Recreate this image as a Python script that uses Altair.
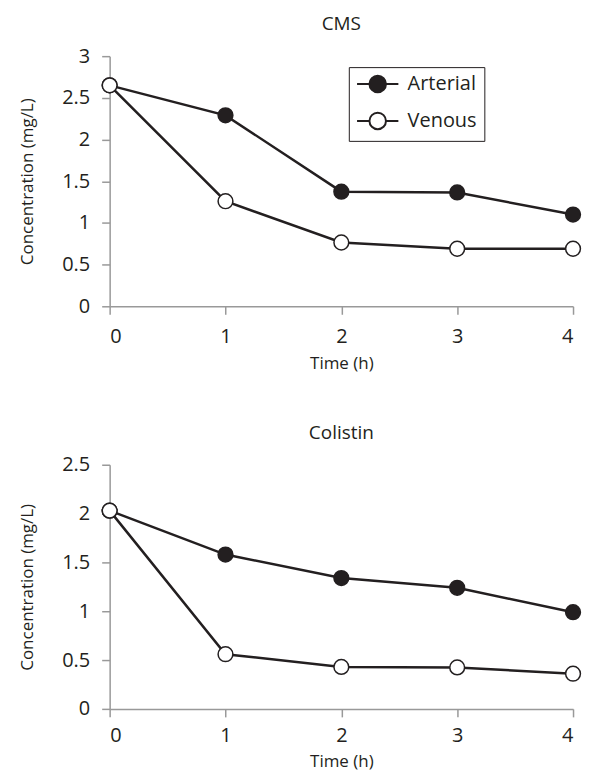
import altair as alt
import pandas as pd

times = [0, 1, 2, 3, 4]
cms_arterial = [2.65, 2.29, 1.375, 1.365, 1.10]
cms_venous = [2.65, 1.26, 0.765, 0.69, 0.69]
col_arterial = [2.03, 1.58, 1.34, 1.24, 0.99]
col_venous = [2.03, 0.56, 0.43, 0.425, 0.36]
series = ["Arterial", "Venous"]

INK = "#231f20"
FONT = "Open Sans"
SYMBOL = "M-2.5,0L-1,0M1,0L2.5,0M1,0A1,1 0 1,1 -1,0A1,1 0 1,1 1,0Z"


def frame(art, ven):
    rows = []
    for t, a in zip(times, art):
        rows.append({"time": t, "value": a, "series": "Arterial", "ord": 0})
    for t, v in zip(times, ven):
        rows.append({"time": t, "value": v, "series": "Venous", "ord": 1})
    return pd.DataFrame(rows)


def panel(df, title, ymax, w, h, lx, ly, xlp, xtp):
    base = alt.Chart(df)
    x = alt.X("time:Q", title="Time (h)",
              scale=alt.Scale(domain=[0, 4], nice=False),
              axis=alt.Axis(values=times, format="~g", labelPadding=xlp,
                            titlePadding=xtp))
    yvals = [i * 0.5 for i in range(int(ymax * 2) + 1)]
    y = alt.Y("value:Q", title="Concentration (mg/L)",
              scale=alt.Scale(domain=[0, ymax], nice=False),
              axis=alt.Axis(values=yvals, format="~g", titlePadding=25))
    lines = base.mark_line(color=INK, strokeWidth=2.5).encode(
        x=x, y=y, detail="series:N")
    pts = base.mark_point(filled=True, size=220, stroke=INK, strokeWidth=1.5,
                          opacity=1).encode(
        x=x, y=y,
        fill=alt.Fill("series:N",
                      scale=alt.Scale(domain=series, range=[INK, "white"]),
                      legend=alt.Legend(
                          title=None, orient="none", legendX=lx, legendY=ly,
                          symbolType=SYMBOL, symbolSize=275,
                          symbolStrokeColor=INK, symbolStrokeWidth=2,
                          symbolOffset=12, labelOffset=20,
                          labelFont=FONT, labelFontSize=20, labelColor=INK,
                          rowPadding=11, padding=7,
                          strokeColor=INK, fillColor="white")),
        order=alt.Order("ord:Q"))
    return alt.layer(lines, pts).properties(
        width=w, height=h,
        title=alt.TitleParams(title, font=FONT, fontSize=19, fontWeight="normal",
                              color=INK, offset=12))


top = panel(frame(cms_arterial, cms_venous), "CMS", 3, 465, 251, 240, 11, 12, 9)
bottom = panel(frame(col_arterial, col_venous), "Colistin", 2.5, 465, 245, 240, -1, 9, 8)

chart = alt.vconcat(top, bottom, spacing=53).properties(
    padding={"left": 10, "top": 6, "right": -2, "bottom": 0}
).configure_axis(
    grid=False, domainColor="#999999", tickColor="#999999", domainWidth=1.5,
    tickWidth=1.5, tickSize=8, labelFont=FONT, labelFontSize=20,
    labelColor=INK, titleFont=FONT, titleFontSize=17, titleFontWeight="normal",
    titleColor=INK, labelPadding=12
).configure_view(stroke=None)

chart.save("out.html", embed_options={"renderer": "svg", "actions": False})
